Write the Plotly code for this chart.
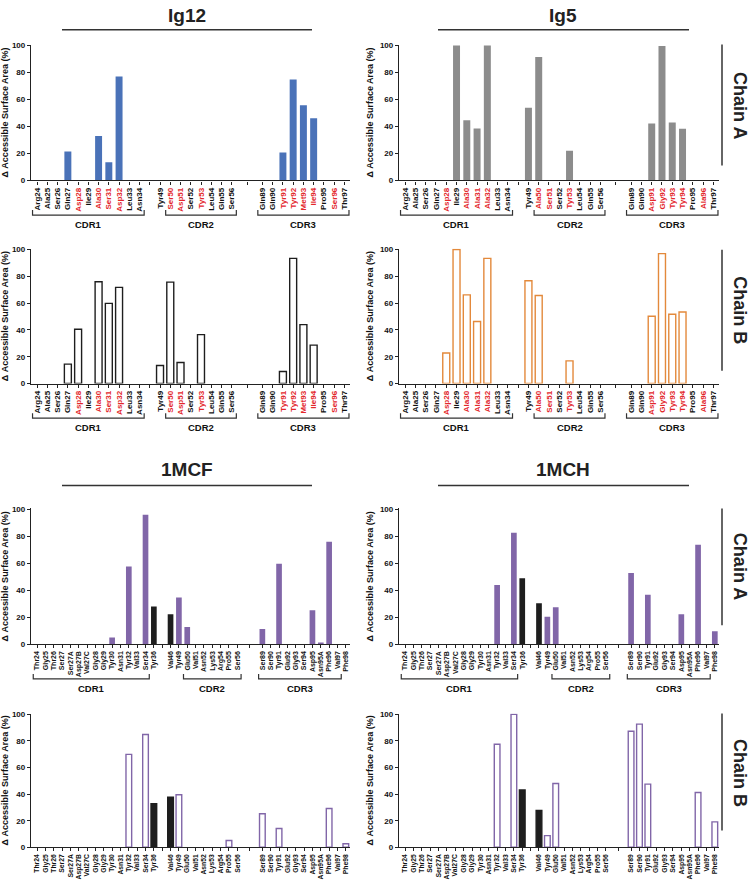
import plotly.graph_objects as go

W, H = 749, 886
FONT = "Liberation Sans, Arial, sans-serif"
TITLE_FONT = "Liberation Sans Narrow, Liberation Sans, Arial, sans-serif"
AX = "#222222"
RED = "#e3262b"
BLUE = "#4a72b8"
GRAY = "#8c8c8c"
ORANGE = "#e3893b"
PURPLE = "#8166a8"
BLACK = "#1e1e1e"

# ---------------- residues (x categories) ----------------
IG12_CDR1 = ["Arg24", "Ala25", "Ser26", "Gln27", "Asp28", "Ile29", "Ala30", "Ser31", "Asp32", "Leu33", "Asn34"]
IG12_CDR2 = ["Tyr49", "Ser50", "Asp51", "Ser52", "Tyr53", "Leu54", "Gln55", "Ser56"]
IG12_CDR3 = ["Gln89", "Gln90", "Tyr91", "Tyr92", "Met93", "Ile94", "Pro95", "Ser96", "Thr97"]
IG12_RED = ["Asp28", "Ala30", "Ser31", "Asp32", "Ser50", "Asp51", "Tyr53",
            "Tyr91", "Tyr92", "Met93", "Ile94", "Ser96"]

IG5_CDR1 = ["Arg24", "Ala25", "Ser26", "Gln27", "Asp28", "Ile29", "Ala30", "Ala31", "Ala32", "Leu33", "Asn34"]
IG5_CDR2 = ["Tyr49", "Ala50", "Ser51", "Ser52", "Tyr53", "Leu54", "Gln55", "Ser56"]
IG5_CDR3 = ["Gln89", "Gln90", "Asp91", "Gly92", "Tyr93", "Tyr94", "Pro95", "Ala96", "Thr97"]
IG5_RED = ["Asp28", "Ala30", "Ala31", "Ala32", "Ala50", "Ser51", "Tyr53",
           "Asp91", "Gly92", "Tyr93", "Tyr94", "Ala96"]

MC_CDR1 = ["Thr24", "Gly25", "Thr26", "Ser27", "Ser27A", "Asp27B", "Val27C", "Gly28", "Gly29",
           "Tyr30", "Asn31", "Tyr32", "Val33", "Ser34", "Tyr36"]
MC_CDR2 = ["Val46", "Tyr49", "Glu50", "Val51", "Asn52", "Lys53", "Arg54", "Pro55", "Ser56"]
MC_CDR3 = ["Ser89", "Ser90", "Tyr91", "Glu92", "Gly93", "Ser94", "Asp95", "Asn95A", "Phe96", "Val97", "Phe98"]
MC_BLACK = ["Tyr36", "Val46"]

# ---------------- values (Δ accessible surface area, %) ----------------
IG12_A_CDR1 = [0, 0, 0, 21.4, 0, 0, 32.8, 13.4, 76.9, 0, 0]
IG12_A_CDR2 = [0, 0, 0, 0, 0, 0, 0, 0]
IG12_A_CDR3 = [0, 0, 20.7, 74.7, 55.7, 46.0, 0, 0, 0]

IG12_B_CDR1 = [0, 0, 0, 14.5, 40.5, 0, 76.0, 59.8, 71.8, 0, 0]
IG12_B_CDR2 = [13.5, 75.7, 15.7, 0, 36.5, 0, 0, 0]
IG12_B_CDR3 = [0, 0, 9.0, 93.4, 44.0, 28.7, 0, 0, 0]

IG5_A_CDR1 = [0, 0, 0, 0, 0, 100, 44.5, 38.4, 100, 0, 0]
IG5_A_CDR2 = [53.8, 91.5, 0, 0, 21.9, 0, 0, 0]
IG5_A_CDR3 = [0, 0, 42.1, 99.5, 42.8, 38.2, 0, 0, 0]

IG5_B_CDR1 = [0, 0, 0, 0, 22.8, 100, 66.2, 46.3, 93.4, 0, 0]
IG5_B_CDR2 = [76.7, 65.7, 0, 0, 16.9, 0, 0, 0]
IG5_B_CDR3 = [0, 0, 50.2, 97.0, 51.7, 53.4, 0, 0, 0]

MCF_A_CDR1 = [0, 0, 0, 0, 0, 0, 0, 0, 0, 4.9, 0, 57.6, 0, 95.9, 28.0]
MCF_A_CDR2 = [22.2, 34.6, 12.7, 0, 0, 0, 0, 0, 0]
MCF_A_CDR3 = [11.2, 0, 59.5, 0, 0, 0, 25.1, 0.7, 75.9, 0, 0]

MCH_A_CDR1 = [0, 0, 0, 0, 0, 0, 0, 0, 0, 0, 0, 43.8, 0, 82.5, 48.8]
MCH_A_CDR2 = [30.3, 20.4, 27.3, 0, 0, 0, 0, 0, 0]
MCH_A_CDR3 = [52.7, 0, 36.7, 0, 0, 0, 22.2, 0, 73.6, 0, 9.6]

MCF_B_CDR1 = [0, 0, 0, 0, 0, 0, 0, 0, 0, 0, 0, 69.9, 0, 84.8, 32.8]
MCF_B_CDR2 = [37.7, 39.5, 0, 0, 0, 0, 0, 5.1, 0]
MCF_B_CDR3 = [25.2, 0, 14.2, 0, 0, 0, 0, 0, 29.2, 0, 2.7]

MCH_B_CDR1 = [0, 0, 0, 0, 0, 0, 0, 0, 0, 0, 0, 77.5, 0, 100, 43.1]
MCH_B_CDR2 = [27.7, 8.8, 48.0, 0, 0, 0, 0, 0, 0]
MCH_B_CDR3 = [87.3, 92.6, 47.5, 0, 0, 0, 0, 0, 41.2, 0, 19.1]

# CDR bracket spans (first residue, last residue, label)
IG12_BRACKETS = [("Arg24", "Asn34", "CDR1"), ("Ser50", "Ser56", "CDR2"), ("Gln89", "Thr97", "CDR3")]
IG5_BRACKETS = [("Arg24", "Asn34", "CDR1"), ("Ala50", "Ser56", "CDR2"), ("Gln89", "Thr97", "CDR3")]
MC_BRACKETS = [("Thr24", "Ser34", "CDR1"), ("Glu50", "Ser56", "CDR2"), ("Ser89", "Val97", "CDR3")]

Y_TICKS = [0, 20, 40, 60, 80, 100]
Y_TITLE = "Δ Accessible Surface Area (%)"

# ---------------- layout geometry (pixels) ----------------
COL_X = [(31, 350), (399, 719)]
ROW_Y = [(42, 179), (248, 384), (510, 647), (717, 852)]
GAPS = [2, 3]


def pxx(v):
    return v / W


def pxy(v):
    return 1 - v / H


panels = [
    dict(row=1, col=1, groups=[IG12_CDR1, IG12_CDR2, IG12_CDR3], vals=[IG12_A_CDR1, IG12_A_CDR2, IG12_A_CDR3],
         fill=True, color=BLUE, red=IG12_RED, black=[], brackets=IG12_BRACKETS, xr=[-0.6, 30.55], fs=8),
    dict(row=1, col=2, groups=[IG5_CDR1, IG5_CDR2, IG5_CDR3], vals=[IG5_A_CDR1, IG5_A_CDR2, IG5_A_CDR3],
         fill=True, color=GRAY, red=IG5_RED, black=[], brackets=IG5_BRACKETS, xr=[-0.6, 30.55], fs=8),
    dict(row=2, col=1, groups=[IG12_CDR1, IG12_CDR2, IG12_CDR3], vals=[IG12_B_CDR1, IG12_B_CDR2, IG12_B_CDR3],
         fill=False, color=BLACK, red=IG12_RED, black=[], brackets=IG12_BRACKETS, xr=[-0.6, 30.55], fs=8),
    dict(row=2, col=2, groups=[IG5_CDR1, IG5_CDR2, IG5_CDR3], vals=[IG5_B_CDR1, IG5_B_CDR2, IG5_B_CDR3],
         fill=False, color=ORANGE, red=IG5_RED, black=[], brackets=IG5_BRACKETS, xr=[-0.6, 30.55], fs=8),
    dict(row=3, col=1, groups=[MC_CDR1, MC_CDR2, MC_CDR3], vals=[MCF_A_CDR1, MCF_A_CDR2, MCF_A_CDR3],
         fill=True, color=PURPLE, red=[], black=MC_BLACK, brackets=MC_BRACKETS, xr=[-0.72, 37.5], fs=7),
    dict(row=3, col=2, groups=[MC_CDR1, MC_CDR2, MC_CDR3], vals=[MCH_A_CDR1, MCH_A_CDR2, MCH_A_CDR3],
         fill=True, color=PURPLE, red=[], black=MC_BLACK, brackets=MC_BRACKETS, xr=[-0.72, 37.5], fs=7),
    dict(row=4, col=1, groups=[MC_CDR1, MC_CDR2, MC_CDR3], vals=[MCF_B_CDR1, MCF_B_CDR2, MCF_B_CDR3],
         fill=False, color=PURPLE, red=[], black=MC_BLACK, brackets=[], xr=[-0.72, 37.5], fs=6.8),
    dict(row=4, col=2, groups=[MC_CDR1, MC_CDR2, MC_CDR3], vals=[MCH_B_CDR1, MCH_B_CDR2, MCH_B_CDR3],
         fill=False, color=PURPLE, red=[], black=MC_BLACK, brackets=[], xr=[-0.72, 37.5], fs=6.8),
]

fig = go.Figure()
layout = {}
shapes = []
annotations = []

for p in panels:
    n = (p["row"] - 1) * 2 + p["col"]
    sfx = "" if n == 1 else str(n)
    xid, yid = "x" + sfx, "y" + sfx

    labels, xs, ys = [], [], []
    pos = 0
    group_bounds = []
    for gi, (g, v) in enumerate(zip(p["groups"], p["vals"])):
        if gi > 0:
            pos += GAPS[gi - 1] - 1
        start = pos
        for lab, val in zip(g, v):
            labels.append(lab)
            xs.append(pos)
            ys.append(val)
            pos += 1
        group_bounds.append((start, pos - 1))
    pos_of = dict(zip(labels, xs))

    fills, lines = [], []
    for lab in labels:
        if lab in p["black"]:
            fills.append(BLACK)
            lines.append(BLACK)
        else:
            fills.append(p["color"] if p["fill"] else "white")
            lines.append(p["color"])

    fig.add_trace(go.Bar(
        x=xs, y=[v if v > 0 else None for v in ys], width=0.68,
        marker=dict(color=fills, line=dict(color=lines, width=0 if p["fill"] else 1.4)),
        xaxis=xid, yaxis=yid, showlegend=False, hoverinfo="x+y"))

    tickvals = list(xs)
    ticktext = [f"<span style='color:{RED}'>{l}</span>" if l in p["red"] else l for l in labels]
    for (a0, a1), (b0, b1) in zip(group_bounds[:-1], group_bounds[1:]):
        tickvals.append((a1 + b0) / 2)
        ticktext.append("")

    x0, x1 = COL_X[p["col"] - 1]
    y0, y1 = ROW_Y[p["row"] - 1]
    hpx = y1 - y0

    layout["xaxis" + sfx] = dict(
        domain=[pxx(x0), pxx(x1)], anchor=yid, range=p["xr"],
        tickmode="array", tickvals=tickvals, ticktext=ticktext, tickangle=-90,
        ticks="outside", ticklen=3, tickwidth=1, tickcolor=AX,
        showline=True, linecolor=AX, linewidth=1.3, showgrid=False, zeroline=False,
        tickfont=dict(family=FONT, size=p["fs"], color="#111111", weight="bold"), fixedrange=True)
    layout["yaxis" + sfx] = dict(
        domain=[pxy(y1), pxy(y0)], anchor=xid, range=[0, 100.6],
        tickmode="array", tickvals=Y_TICKS, ticks="outside", ticklen=3, tickwidth=1, tickcolor=AX,
        showline=True, linecolor=AX, linewidth=1.3, showgrid=False, zeroline=False,
        tickfont=dict(family=FONT, size=8, color="#111111", weight="bold"),
        title=dict(text=Y_TITLE, font=dict(family=FONT, size=9, color="#111111", weight="bold"), standoff=4),
        fixedrange=True)

    bd = -35 / hpx
    bh = 5 / hpx
    for first, last, name in p["brackets"]:
        bx0 = pos_of[first] - 0.45
        bx1 = pos_of[last] + 0.45
        shapes.append(dict(type="path", xref=xid, yref=yid + " domain",
                           path=f"M {bx0},{bd + bh} L {bx0},{bd} L {bx1},{bd} L {bx1},{bd + bh}",
                           line=dict(color="#333333", width=1.2)))
        annotations.append(dict(text=name, xref=xid, yref=yid + " domain", x=(bx0 + bx1) / 2, y=bd,
                                yanchor="top", xanchor="center", yshift=-2, showarrow=False,
                                font=dict(family=FONT, size=9.5, color="#111111", weight="bold")))

TITLES = [("Ig12", 187, 13, 62, 312, 27), ("Ig5", 563, 13, 438, 689, 27),
          ("1MCF", 187, 471, 62, 312, 487), ("1MCH", 563, 471, 438, 689, 487)]
for text, cx, cy, lx0, lx1, ly in TITLES:
    annotations.append(dict(text=text, xref="paper", yref="paper", x=pxx(cx), y=pxy(cy),
                            xanchor="center", yanchor="middle", showarrow=False,
                            font=dict(family=TITLE_FONT, size=19, color="#222222", weight="bold")))
    shapes.append(dict(type="line", xref="paper", yref="paper", x0=pxx(lx0), x1=pxx(lx1),
                       y0=pxy(ly), y1=pxy(ly), line=dict(color="#333333", width=1.5)))

CHAINS = [("Chain A", 42, 164, 103), ("Chain B", 249, 371, 310),
          ("Chain A", 510, 628, 568), ("Chain B", 717, 835, 777)]
for text, ly0, ly1, cy in CHAINS:
    shapes.append(dict(type="line", xref="paper", yref="paper", x0=pxx(722), x1=pxx(722),
                       y0=pxy(ly0), y1=pxy(ly1), line=dict(color="#333333", width=1.5)))
    annotations.append(dict(text=text, xref="paper", yref="paper", x=pxx(740), y=pxy(cy),
                            xanchor="center", yanchor="middle", textangle=90, showarrow=False,
                            font=dict(family=FONT, size=18, color="#222222", weight="bold")))

fig.update_layout(
    width=W, height=H, margin=dict(l=0, r=0, t=0, b=0),
    paper_bgcolor="white", plot_bgcolor="white",
    font=dict(family=FONT, color="#111111"),
    bargap=0.3, shapes=shapes, annotations=annotations, **layout)

fig.write_html("out.html", config={"displayModeBar": False},
               post_script="document.body.style.margin='0';document.body.style.overflow='hidden';")
